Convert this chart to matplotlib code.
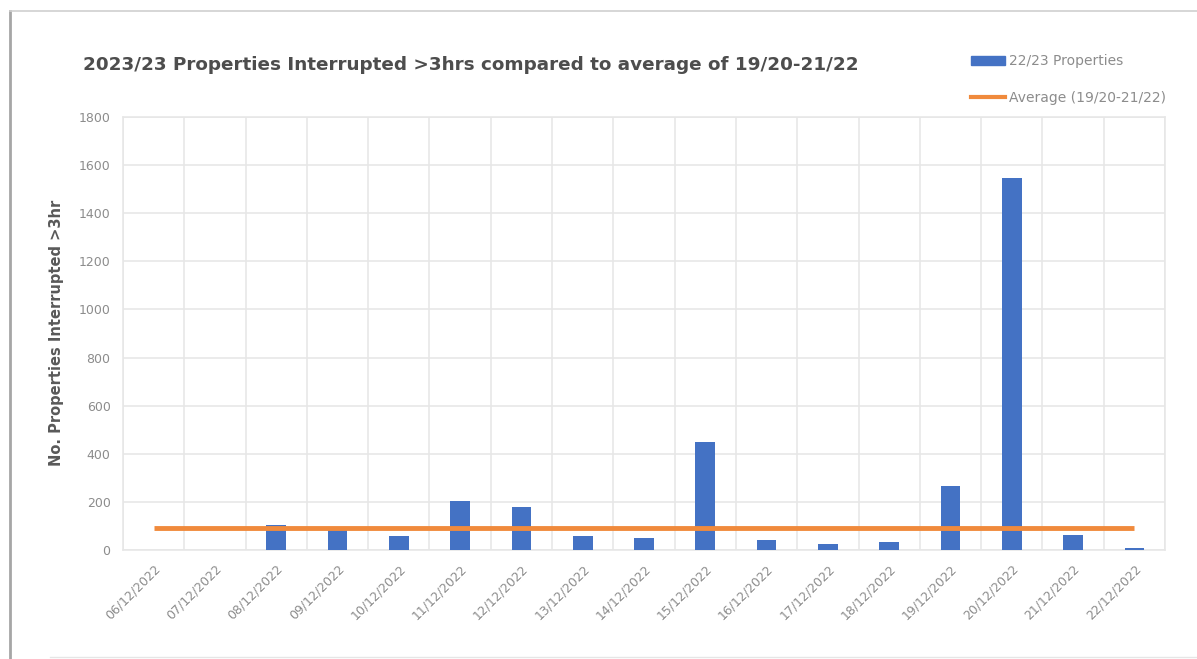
import matplotlib.pyplot as plt
from matplotlib.lines import Line2D
from matplotlib.patches import Patch

# daily counts of properties off supply for more than 3 hours
dates = ['06/12/2022', '07/12/2022', '08/12/2022', '09/12/2022', '10/12/2022',
         '11/12/2022', '12/12/2022', '13/12/2022', '14/12/2022', '15/12/2022',
         '16/12/2022', '17/12/2022', '18/12/2022', '19/12/2022', '20/12/2022',
         '21/12/2022', '22/12/2022']
properties = [0, 0, 105, 85, 60, 205, 180, 60, 50, 450, 42, 25, 35, 265, 1545, 62, 10]
average = [90] * len(dates)
y_ticks = [0, 200, 400, 600, 800, 1000, 1200, 1400, 1600, 1800]

W, H = 1197, 659
fig = plt.figure(figsize=(W / 100, H / 100), dpi=100)
plt.rcParams['font.family'] = ['DejaVu Sans']

ax = fig.add_axes([123 / W, 1 - 550 / H, (1165 - 123) / W, (550 - 117) / H])
x = list(range(len(dates)))
ax.bar(x, properties, width=0.32, color='#4472C4', zorder=3)
ax.plot(x, average, color='#F08A3C', lw=3.5, zorder=4, solid_capstyle='butt')

ax.set_xlim(-0.5, len(dates) - 0.5)
ax.set_ylim(0, 1800)
ax.set_yticks(y_ticks)
ax.set_yticklabels([str(v) for v in y_ticks], color='#8c8c8c', fontsize=9)
ax.set_xticks(x)
ax.set_xticklabels(dates, rotation=45, ha='right', rotation_mode='anchor',
                   color='#8c8c8c', fontsize=9)
ax.set_xticks([i - 0.5 for i in range(len(dates) + 1)], minor=True)
ax.tick_params(axis='both', which='both', length=0, pad=9)
ax.grid(axis='y', which='major', color='#e6e6e6', lw=1.1, zorder=0)
ax.grid(axis='x', which='minor', color='#e6e6e6', lw=1.1, zorder=0)
for s in ax.spines.values():
    s.set_color('#e6e6e6')
    s.set_linewidth(1.1)

fig.text(83 / W, 1 - 65 / H,
         '2023/23 Properties Interrupted >3hrs compared to average of 19/20-21/22',
         fontsize=13.2, fontweight='bold', color='#4d4d4d', va='center', ha='left')
fig.text(57 / W, 1 - 333 / H, 'No. Properties Interrupted >3hr', rotation=90,
         fontsize=10.5, fontweight='bold', color='#595959', va='center', ha='center')

handles = [Patch(color='#4472C4'), Line2D([], [], color='#F08A3C', lw=3)]
fig.legend(handles, ['22/23 Properties', 'Average (19/20-21/22)'],
           loc='upper left', bbox_to_anchor=(958 / W, 1 - 42 / H), frameon=False,
           fontsize=10, labelcolor='#8c8c8c', labelspacing=1.6,
           handlelength=2.5, handleheight=0.6, handletextpad=0.3)

# card outline around the chart
fig.add_artist(Line2D([10 / W, 10 / W], [0, 1 - 11 / H], color='#a6a6a6', lw=2,
                      transform=fig.transFigure))
fig.add_artist(Line2D([10 / W, 1], [1 - 11 / H, 1 - 11 / H], color='#d0d0d0', lw=1.2,
                      transform=fig.transFigure))
fig.add_artist(Line2D([50 / W, 1], [1 - 657 / H, 1 - 657 / H], color='#e6e6e6', lw=1,
                      transform=fig.transFigure))

fig.savefig('out.png', dpi=100)
plt.close(fig)
